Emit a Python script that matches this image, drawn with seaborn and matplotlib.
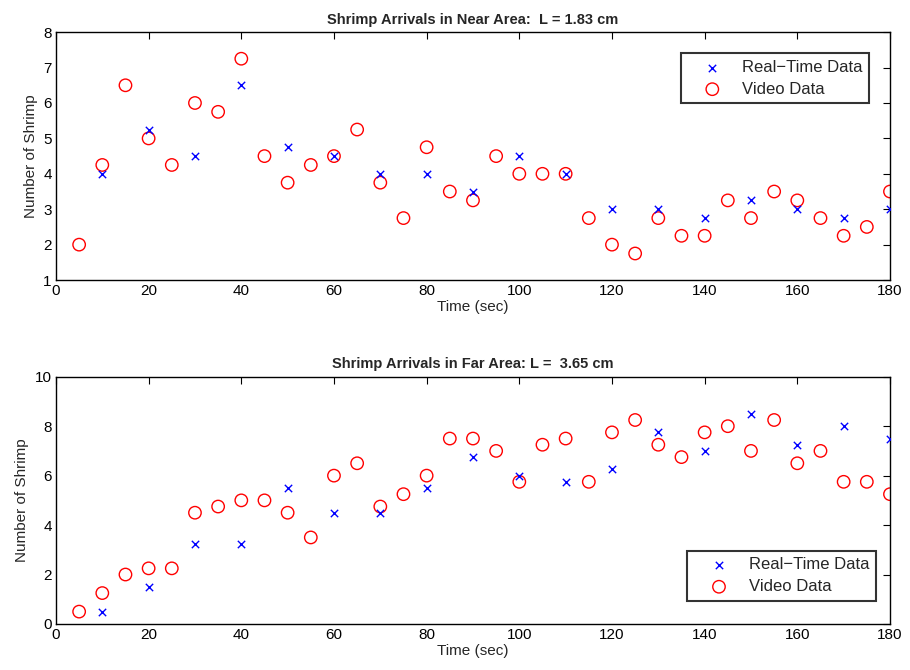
import numpy as np
import pandas as pd
import seaborn as sns
import matplotlib
matplotlib.use("Agg")
import matplotlib.pyplot as plt

# ---- data ----
rt_time = [10, 20, 30, 40, 50, 60, 70, 80, 90, 100, 110, 120, 130, 140, 150, 160, 170, 180]
vid_time = [5, 10, 15, 20, 25, 30, 35, 40, 45, 50, 55, 60, 65, 70, 75, 80, 85, 90,
            95, 100, 105, 110, 115, 120, 125, 130, 135, 140, 145, 150, 155, 160, 165, 170, 175, 180]

near_rt = [4, 5.25, 4.5, 6.5, 4.75, 4.5, 4, 4, 3.5, 4.5, 4, 3, 3, 2.75, 3.25, 3, 2.75, 3]
near_vid = [2, 4.25, 6.5, 5, 4.25, 6, 5.75, 7.25, 4.5, 3.75, 4.25, 4.5, 5.25, 3.75, 2.75, 4.75,
            3.5, 3.25, 4.5, 4, 4, 4, 2.75, 2, 1.75, 2.75, 2.25, 2.25, 3.25, 2.75, 3.5, 3.25,
            2.75, 2.25, 2.5, 3.5]

far_rt = [0.5, 1.5, 3.25, 3.25, 5.5, 4.5, 4.5, 5.5, 6.75, 6, 5.75, 6.25, 7.75, 7, 8.5, 7.25, 8, 7.5]
far_vid = [0.5, 1.25, 2, 2.25, 2.25, 4.5, 4.75, 5, 5, 4.5, 3.5, 6, 6.5, 4.75, 5.25, 6, 7.5, 7.5,
           7, 5.75, 7.25, 7.5, 5.75, 7.75, 8.25, 7.25, 6.75, 7.75, 8, 7, 8.25, 6.5, 7, 5.75,
           5.75, 5.25]

titles = ["Shrimp Arrivals in Near Area:  L = 1.83 cm", "Shrimp Arrivals in Far Area: L =  3.65 cm"]
series_labels = ["Real\u2212Time Data", "Video Data"]
xlabel = "Time (sec)"
ylabel = "Number of Shrimp"

sns.set_style("white")
plt.rcParams['font.family'] = ['Liberation Sans', 'DejaVu Sans']
plt.rcParams['axes.unicode_minus'] = True

fig = plt.figure(figsize=(9.1, 6.7), dpi=100)
ax1 = fig.add_axes([0.0615, 0.582, 0.9165, 0.370])
ax2 = fig.add_axes([0.0615, 0.0687, 0.9165, 0.369])

panels = [
    (ax1, near_rt, near_vid, (1, 8), np.arange(1, 9, 1), (0.749, 0.915)),
    (ax2, far_rt, far_vid, (0, 10), np.arange(0, 11, 2), (0.757, 0.296)),
]

for i, (ax, rt, vid, ylim, yticks, legpos) in enumerate(panels):
    df_rt = pd.DataFrame({"t": rt_time, "n": rt})
    df_vid = pd.DataFrame({"t": vid_time, "n": vid})
    sns.scatterplot(data=df_rt, x="t", y="n", ax=ax, marker="x", color="#0000ff",
                    s=28, linewidth=1.0, label=series_labels[0], zorder=3)
    sns.scatterplot(data=df_vid, x="t", y="n", ax=ax, marker="o", facecolors="none",
                    edgecolor="#ff0000", s=80, linewidth=1.0, label=series_labels[1], zorder=2)
    ax.set_xlim(0, 180)
    ax.set_ylim(*ylim)
    ax.set_xticks(np.arange(0, 181, 20))
    ax.set_yticks(yticks)
    ax.tick_params(direction="in", length=5, width=0.8, top=True, right=True,
                   labelsize=11, pad=3, colors="black")
    for sp in ax.spines.values():
        sp.set_visible(True)
        sp.set_color("black")
        sp.set_linewidth(1.0)
    ax.set_xlabel(xlabel, fontsize=11, labelpad=1)
    ax.set_ylabel(ylabel, fontsize=11, labelpad=4)
    ax.set_title(titles[i], fontsize=10.5, fontweight="bold", pad=6)
    leg = ax.legend(loc="upper left", bbox_to_anchor=legpos, frameon=True, fancybox=False,
                    edgecolor="black", fontsize=12, borderpad=0.4, labelspacing=0.4,
                    handletextpad=0.3, handlelength=3.0, borderaxespad=0)
    leg.get_frame().set_linewidth(1.5)

fig.savefig("out.png", dpi=100, facecolor="white")
